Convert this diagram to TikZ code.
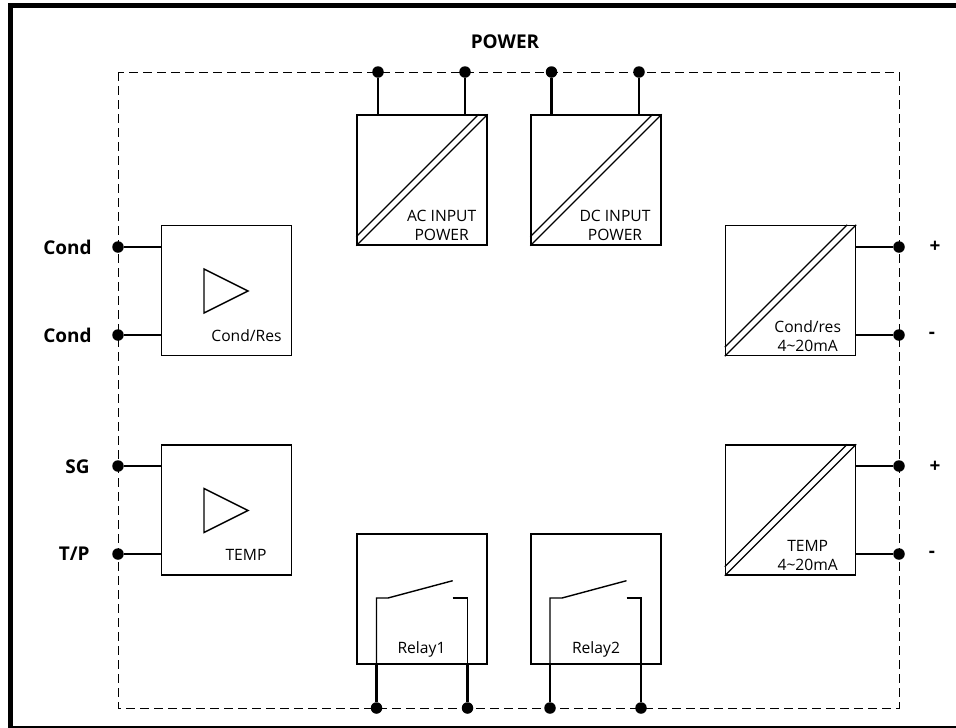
\documentclass[tikz,border=0pt]{standalone}
\usepackage{fontspec}
\setmainfont{Open Sans}
\usetikzlibrary{calc,positioning}
\tikzset{
  blockbox/.style = {draw, line width = .28mm, minimum size = 26mm, inner sep = 0pt},
  termdot/.style = {circle, fill = black, minimum size = 2.3mm, inner sep = 0pt},
  wire/.style = {line width = .42mm},
  thinwire/.style = {line width = .28mm},
  blocktext/.style = {font = \fontsize{8.9}{10.8}\selectfont, align = center, inner sep = 0pt},
  termtext/.style = {font = \fontsize{10.8}{12}\selectfont\bfseries, inner sep = 0pt}
}
\newcommand{\convslash}[1]{
  \draw[thinwire] (#1.south west) -- (#1.north east);
  \draw[thinwire] ($(#1.south west)+(0,-9)$) -- ($(#1.north east)+(-9,0)$);
}
\newcommand{\ampsign}[2]{
  \draw[thinwire] (#1,#2-22) -- (#1,#2+22) -- (#1+44,#2) -- cycle;
}
\begin{document}
\begin{tikzpicture}[x = .2mm, y = -.2mm]
\useasboundingbox (0,0) rectangle (956,728);
\clip (0,0) rectangle (956,728);
% frame and dashed housing
\draw[line width = .9mm] (10.3,733) -- (10.3,5.7) -- (965,5.7);
\draw[line width = .9mm] (8,728.5) -- (965,728.5);
\draw[line width = .2mm, dash pattern = on 1.8mm off 1mm] (118,72) rectangle (899,708);
\node[termtext] (powertitle) at (505,42) {POWER};

% blocks
\node[blockbox] (acbox) at (422,180) {};
\node[blockbox] (dcbox) at (596,180) {};
\node[blockbox] (condbox) at (226.5,290.5) {};
\node[blockbox] (tempbox) at (226.5,510) {};
\node[blockbox] (condout) at (790.5,290.5) {};
\node[blockbox] (tempout) at (790.5,510) {};
\node[blockbox] (relayone) at (422,599) {};
\node[blockbox] (relaytwo) at (596,599) {};

\convslash{acbox}
\convslash{dcbox}
\convslash{condout}
\convslash{tempout}
\ampsign{204}{291}
\ampsign{204}{510.5}

% block texts
\node[blocktext] (actext) at (441.7,225) {AC INPUT\\POWER};
\node[blocktext] (dctext) at (615,225) {DC INPUT\\POWER};
\node[blocktext] (condtext) at (246.5,336) {Cond/Res};
\node[blocktext] (temptext) at (246,555) {TEMP};
\node[blocktext] (condouttext) at (807.7,336.5) {Cond/res\\4\textasciitilde 20mA};
\node[blocktext] (tempouttext) at (807.7,555) {TEMP\\4\textasciitilde 20mA};
\node[blocktext] (relayonetext) at (421.5,649.5) {Relay1};
\node[blocktext] (relaytwotext) at (596,649.5) {Relay2};

% terminals on the housing
\foreach \dotname/\x/\y in {pa/378/72, pb/465/72, pc/551.5/72, pd/639/72,
    ca/118/247, cb/118/335, sg/118/466, tp/118/554,
    oa/899/247, ob/899/335, oc/899/466, od/899/554,
    ra/376.5/708, rb/467.5/708, rc/550/708, rd/641/708}
  \node[termdot] (\dotname) at (\x,\y) {};

\draw[wire] (pa) -- (pa |- acbox.north);
\draw[wire] (pb) -- (pb |- acbox.north);
\draw[wire] (pc) -- (pc |- dcbox.north);
\draw[wire] (pd) -- (pd |- dcbox.north);
\draw[wire] (ca) -- (condbox.west |- ca);
\draw[wire] (cb) -- (condbox.west |- cb);
\draw[wire] (sg) -- (tempbox.west |- sg);
\draw[wire] (tp) -- (tempbox.west |- tp);
\draw[wire] (oa) -- (condout.east |- oa);
\draw[wire] (ob) -- (condout.east |- ob);
\draw[wire] (oc) -- (tempout.east |- oc);
\draw[wire] (od) -- (tempout.east |- od);

% relay contacts
\coordinate (rapivot) at (388,598);
\coordinate (ratip) at (452.7,580.7);
\coordinate (ratouch) at (452.7,598);
\coordinate (rcpivot) at (562,598);
\coordinate (rctip) at (626.5,580.7);
\coordinate (rctouch) at (626.5,598);
\draw[thinwire] (relayone.south -| ra) -- (ra |- rapivot) -- (rapivot) -- (ratip);
\draw[thinwire] (ratouch) -- (rb |- ratouch) -- (relayone.south -| rb);
\draw[thinwire] (relaytwo.south -| rc) -- (rc |- rcpivot) -- (rcpivot) -- (rctip);
\draw[thinwire] (rctouch) -- (rd |- rctouch) -- (relaytwo.south -| rd);
\draw[wire] (ra) -- (relayone.south -| ra);
\draw[wire] (rb) -- (relayone.south -| rb);
\draw[wire] (rc) -- (relaytwo.south -| rc);
\draw[wire] (rd) -- (relaytwo.south -| rd);

% terminal names
\node[termtext, anchor = east] (caname) at (92,247) {Cond};
\node[termtext, anchor = east] (cbname) at (92,335) {Cond};
\node[termtext, anchor = east] (sgname) at (90,467) {SG};
\node[termtext, anchor = east] (tpname) at (90,554) {T/P};
\node[termtext] (oaname) at (935,247) {+};
\node[termtext] (obname) at (932,335) {-};
\node[termtext] (ocname) at (935,467) {+};
\node[termtext] (odname) at (932,554) {-};
\end{tikzpicture}
\end{document}
